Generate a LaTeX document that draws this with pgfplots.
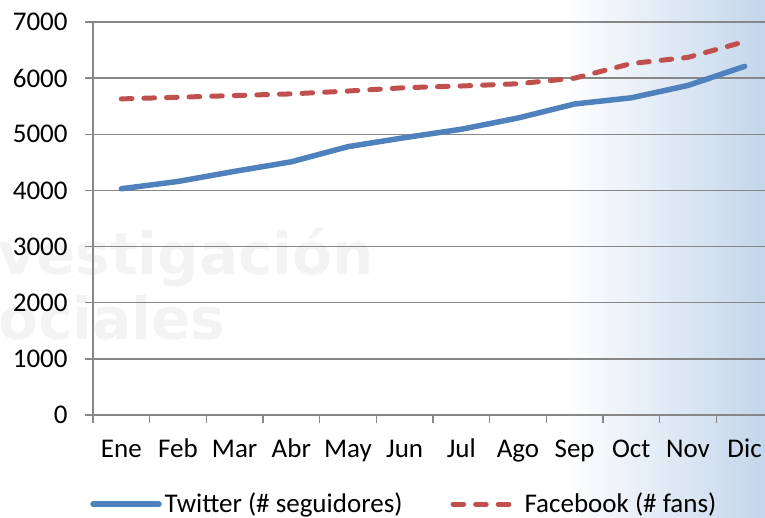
\documentclass[border=0pt]{standalone}
\usepackage{fontspec}
\setmainfont{Carlito}
\newfontfamily\wmfont{DejaVu Sans}
\usepackage{pgfplots}
\pgfplotsset{compat=1.18}
\definecolor{twblue}{HTML}{4F81BD}
\definecolor{fbred}{HTML}{C0504D}
\definecolor{axgray}{HTML}{878787}
\definecolor{bgblue}{RGB}{195,214,235}
\definecolor{wmgray}{HTML}{F3F3F3}
\begin{document}
\begin{tikzpicture}
\useasboundingbox (0,0) rectangle (382.5pt,259pt);
\shade[left color=white, right color=bgblue] (282pt,0) rectangle (382.5pt,259pt);
\node[anchor=base west, inner sep=0pt, text=wmgray, font=\wmfont\bfseries\fontsize{29}{30}\selectfont] at (-1pt,121.5pt) {vestigación};
\node[anchor=base west, inner sep=0pt, text=wmgray, font=\wmfont\bfseries\fontsize{29}{30}\selectfont] at (-1pt,89pt) {ociales};
\begin{axis}[
  at={(46.5pt,51.5pt)}, anchor=south west,
  scale only axis, width=336pt, height=196.5pt,
  xmin=-0.5, xmax=11.36, ymin=0, ymax=7000,
  axis x line*=bottom, axis y line*=left,
  axis line style={draw=axgray, line width=0.75pt},
  ytick={0,1000,...,7000},
  ymajorgrids, grid style={draw=axgray, line width=0.75pt},
  xtick={0,...,11},
  xticklabels={Ene,Feb,Mar,Abr,May,Jun,Jul,Ago,Sep,Oct,Nov,Dic},
  minor xtick={-0.5,0.5,...,10.5},
  tick align=outside,
  major tick length=4pt, minor tick length=4pt,
  major x tick style={draw=none},
  y tick style={draw=axgray, line width=0.75pt},
  minor x tick style={draw=axgray, line width=0.75pt},
  /pgf/number format/1000 sep={},
  /pgf/number format/assume math mode=true,
  ticklabel style={font=\fontsize{13.5}{16}\selectfont, text=black},
  yticklabel style={anchor=east, inner sep=0pt, xshift=-8.5pt},
  xticklabel style={anchor=base, inner sep=0pt, yshift=-17.5pt},
  legend columns=2,
  legend style={at={(0.464,-0.227)}, anchor=center, draw=none, fill=none,
    font=\fontsize{13.5}{16}\selectfont,
    /tikz/every even column/.append style={column sep=22.5pt},
    nodes={inner sep=1.5pt}},
  legend image code/.code={\draw[#1] (0pt,0pt) -- (33pt,0pt);},
]
\addplot[twblue, line width=2.75pt, line cap=round, line join=round] coordinates {
(0,4030) (1,4160) (2,4340) (3,4510) (4,4780) (5,4940) (6,5090) (7,5290) (8,5540) (9,5650) (10,5870) (11,6210)};
\addlegendentry{Twitter (\# seguidores)}
\addplot[fbred, line width=2.5pt, line cap=round, line join=round, dash pattern=on 5.3pt off 6pt] coordinates {
(0,5630) (1,5660) (2,5690) (3,5720) (4,5770) (5,5830) (6,5860) (7,5900) (8,6000) (9,6260) (10,6370) (11,6650)};
\addlegendentry{Facebook (\# fans)}
\end{axis}
\end{tikzpicture}
\end{document}
